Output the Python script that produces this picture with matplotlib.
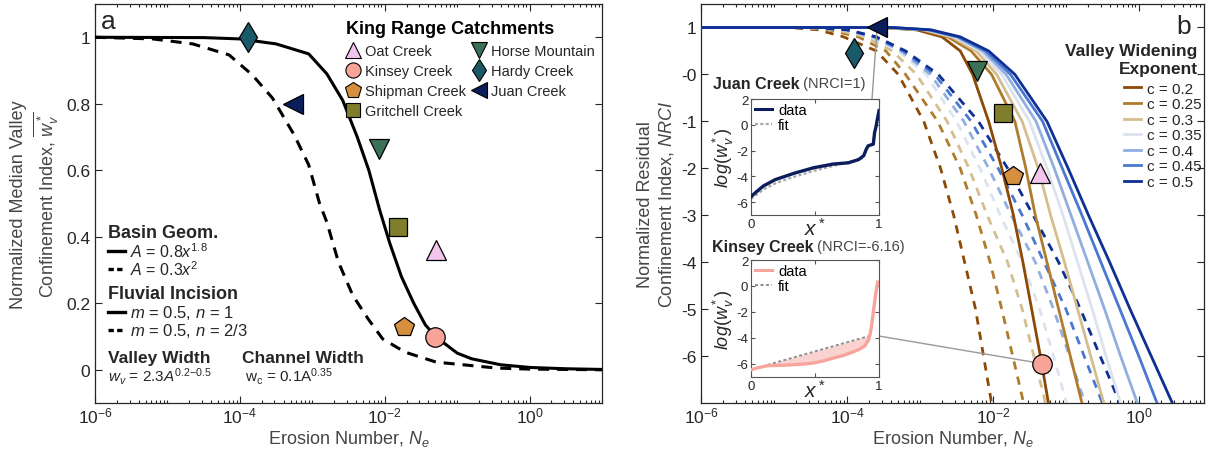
import numpy as np
import matplotlib
matplotlib.use('Agg')
import matplotlib.pyplot as plt
from matplotlib.lines import Line2D
from matplotlib.patches import ConnectionPatch
from matplotlib.ticker import FixedLocator, LogLocator, NullFormatter, FixedFormatter

plt.rcParams['font.family'] = ['Liberation Sans', 'DejaVu Sans']
plt.rcParams['mathtext.fontset'] = 'custom'
plt.rcParams['mathtext.rm'] = 'Liberation Sans'
plt.rcParams['mathtext.it'] = 'Liberation Sans:italic'
plt.rcParams['mathtext.bf'] = 'Liberation Sans:bold'
plt.rcParams['axes.unicode_minus'] = False

# ---- catchments (markers) ----
creeks = ['Oat Creek', 'Kinsey Creek', 'Shipman Creek', 'Gritchell Creek',
          'Horse Mountain', 'Hardy Creek', 'Juan Creek']
creek_markers = ['^', 'o', 'p', 's', 'v', 'd', '<']
creek_sizes = [15, 14, 15, 13, 15, 15, 15]
creek_colors = ['#F2C4EE', '#F7A398', '#D58F3E', '#7E7E2C', '#3B7257', '#1A5A68', '#0B1E5B']
a_logne = [-1.29, -1.31, -1.73, -1.82, -2.08, -3.89, -3.27]
a_wv = [0.36, 0.10, 0.13, 0.43, 0.665, 1.0, 0.8]
b_logne = [-1.35, -1.33, -1.72, -1.86, -2.22, -3.91, -3.59]
b_nrci = [-2.11, -6.16, -2.17, -0.83, 0.07, 0.45, 1.0]

# ---- panel a model curves (log10 Ne, normalized median wv*) ----
a_solid_x = [-6, -4.5, -4.0, -3.5, -3.05, -2.8, -2.58, -2.38, -2.22, -2.07, -1.93, -1.77,
             -1.6, -1.44, -1.3, -1.0, -0.8, -0.4, 0.0, 0.5, 1.0]
a_solid_y = [1.0, 0.999, 0.995, 0.98, 0.95, 0.89, 0.81, 0.70, 0.60, 0.48, 0.38, 0.28,
             0.20, 0.135, 0.10, 0.05, 0.033, 0.015, 0.007, 0.003, 0.001]
a_dash_x = [-6, -5.2, -4.65, -4.15, -3.83, -3.55, -3.25, -3.05, -2.9, -2.8, -2.64, -2.44,
            -2.23, -2.03, -1.72, -1.29, -0.45, 0.0, 1.0]
a_dash_y = [1.0, 0.995, 0.98, 0.947, 0.887, 0.817, 0.706, 0.616, 0.5, 0.444, 0.324, 0.223,
            0.153, 0.093, 0.053, 0.023, 0.005, 0.002, 0.0]

# ---- panel b model curves: log10 Ne at each NRCI level ----
c_labels = ['c = 0.2', 'c = 0.25', 'c = 0.3', 'c = 0.35', 'c = 0.4', 'c = 0.45', 'c = 0.5']
c_colors = ['#8C4A06', '#B07B2C', '#D4BE8F', '#DCE3EE', '#92AEE0', '#4A78D0', '#0E2F93']
nrci_levels = [1, 0.95, 0.8, 0.5, 0, -1, -2, -3, -4, -5, -6, -7]
solid_x = [
    [-3.55, -3.05, -2.70, -2.45, -2.28, -2.06, -1.88, -1.72, -1.59, -1.47, -1.35, -1.24],
    [-3.5, -2.98, -2.62, -2.30, -2.02, -1.70, -1.55, -1.42, -1.26, -1.10, -0.94, -0.78],
    [-3.45, -2.95, -2.57, -2.23, -1.95, -1.60, -1.38, -1.21, -1.02, -0.84, -0.66, -0.48],
    [-3.45, -2.92, -2.53, -2.18, -1.88, -1.50, -1.26, -1.04, -0.84, -0.64, -0.45, -0.25],
    [-3.4, -2.9, -2.50, -2.14, -1.82, -1.41, -1.16, -0.93, -0.70, -0.47, -0.25, -0.02],
    [-3.4, -2.88, -2.48, -2.10, -1.76, -1.32, -1.05, -0.78, -0.52, -0.26, 0.0, 0.25],
    [-3.4, -2.85, -2.45, -2.06, -1.70, -1.26, -0.97, -0.69, -0.40, -0.12, 0.17, 0.46],
]
dash_x = [
    [-4.8, -4.4, -4.05, -3.6, -3.3, -2.95, -2.72, -2.54, -2.39, -2.24, -2.13, -2.02],
    [-4.7, -4.25, -3.85, -3.47, -3.2, -2.76, -2.45, -2.23, -2.04, -1.88, -1.73, -1.58],
    [-4.6, -4.15, -3.75, -3.38, -3.05, -2.63, -2.33, -2.08, -1.80, -1.60, -1.44, -1.28],
    [-4.5, -4.05, -3.68, -3.30, -2.92, -2.50, -2.18, -1.90, -1.60, -1.36, -1.17, -0.99],
    [-4.5, -4.03, -3.65, -3.26, -2.86, -2.40, -2.06, -1.75, -1.42, -1.17, -0.95, -0.74],
    [-4.5, -4.0, -3.62, -3.23, -2.80, -2.30, -1.93, -1.60, -1.30, -1.00, -0.75, -0.50],
    [-4.5, -4.0, -3.60, -3.20, -2.75, -2.20, -1.80, -1.45, -1.10, -0.80, -0.53, -0.26],
]

# ---- inset profiles ----
juan_x = [0, 0.03, 0.096, 0.19, 0.34, 0.49, 0.64, 0.76, 0.84, 0.88, 0.90, 0.915,
          0.94, 0.955, 0.965, 0.975, 0.99, 1.0]
juan_y = [-5.58, -5.3, -4.75, -4.25, -3.75, -3.33, -3.05, -2.95, -2.7, -2.4, -1.9, -1.63,
          -1.55, -1.5, -0.6, -0.2, 0.6, 1.1]
juan_fit_x = [0, 0.1, 0.2, 0.3, 0.4, 0.5, 0.6, 0.7, 0.8, 0.87]
juan_fit_y = [-5.75, -5.0, -4.5, -4.15, -3.85, -3.55, -3.3, -3.05, -2.8, -2.6]
kins_x = [0, 0.05, 0.13, 0.25, 0.34, 0.42, 0.49, 0.57, 0.64, 0.72, 0.79, 0.85, 0.89,
          0.92, 0.94, 0.955, 0.975, 0.99]
kins_y = [-6.45, -6.3, -6.13, -6.1, -6.05, -6.0, -5.92, -5.75, -5.55, -5.35, -5.1, -4.85,
          -4.6, -4.1, -3.2, -2.0, -0.5, 0.3]
kins_fit = [np.nan, np.nan, -6.07, -5.73, -5.48, -5.25, -5.06, -4.83, -4.64, -4.41, -4.22,
            -4.05, -3.94, -3.86, -3.80, np.nan, np.nan, np.nan]

TXT = '#262626'
LAB = '#454545'

fig = plt.figure(figsize=(12.09, 4.6), dpi=100)
ax1 = fig.add_axes([0.0786, 0.1217, 0.4194, 0.8674])
ax2 = fig.add_axes([0.5802, 0.1217, 0.416, 0.8674])


def style_log_axes(ax, xmax):
    ax.set_xscale('log')
    ax.set_xlim(1e-6, xmax)
    ax.xaxis.set_major_locator(FixedLocator([1e-6, 1e-4, 1e-2, 1e0]))
    ax.xaxis.set_major_formatter(FixedFormatter([r'$10^{-6}$', r'$10^{-4}$', r'$10^{-2}$', r'$10^{0}$']))
    ax.xaxis.set_minor_locator(LogLocator(base=10, subs=np.arange(1, 10), numticks=30))
    ax.xaxis.set_minor_formatter(NullFormatter())
    ax.tick_params(which='both', direction='in', top=True, right=True, colors=TXT,
                   labelsize=12.5, labelcolor=TXT, width=0.8)
    ax.tick_params(which='major', length=5)
    ax.tick_params(which='minor', length=2.5)
    ax.tick_params(axis='x', pad=2)
    for s in ax.spines.values():
        s.set_color(TXT)
        s.set_linewidth(0.9)
    ax.set_xlabel(r'Erosion Number, $N_e$', fontsize=13, color=LAB, labelpad=2)


# ================= panel a =================
style_log_axes(ax1, 1e1)
ax1.set_ylim(-0.1, 1.1)
ax1.set_yticks([0, 0.2, 0.4, 0.6, 0.8, 1.0])
ax1.set_yticklabels(['0', '0.2', '0.4', '0.6', '0.8', '1'])
ax1.plot(10 ** np.array(a_solid_x), a_solid_y, color='k', lw=2.2, zorder=3)
ax1.plot(10 ** np.array(a_dash_x), a_dash_y, color='k', lw=2.2, dashes=(3.6, 2.6), zorder=3)
for i in range(len(creeks)):
    ax1.plot(10 ** a_logne[i], a_wv[i], marker=creek_markers[i], ms=creek_sizes[i],
             mfc=creek_colors[i], mec='k', mew=0.9, ls='none', zorder=5)
ax1.set_ylabel('Normalized Median Valley\nConfinement Index, $\\overline{w_v^*}$',
               fontsize=13, color=LAB, labelpad=4)
ax1.text(0.012, 0.957, 'a', transform=ax1.transAxes, fontsize=19, color=TXT, va='center')

handles = [Line2D([], [], marker=creek_markers[i], ms=creek_sizes[i] * 0.78,
                  mfc=creek_colors[i], mec='k', mew=0.8, ls='none') for i in range(len(creeks))]
leg1 = ax1.legend(handles, creeks, ncol=2, loc='upper left', bbox_to_anchor=(0.49, 0.966),
                  title='King Range Catchments', alignment='left',
                  title_fontproperties={'weight': 'bold', 'size': 13},
                  frameon=False, fontsize=10.5, handlelength=0.9, handletextpad=0.35,
                  columnspacing=0.5, labelspacing=0.42, borderaxespad=0.1, borderpad=0.1)
for t in leg1.get_texts():
    t.set_color(TXT)

# lower-left annotation block
blk = dict(transform=ax1.transAxes, va='center', color=TXT)
ax1.text(0.0256, 0.4286, 'Basin Geom.', fontsize=13, weight='bold', **blk)
ax1.text(0.069, 0.381, r'$A$ = 0.8$x^{1.8}$', fontsize=11.5, **blk)
ax1.text(0.069, 0.336, r'$A$ = 0.3$x^{2}$', fontsize=11.5, **blk)
ax1.text(0.0256, 0.2757, 'Fluvial Incision', fontsize=13, weight='bold', **blk)
ax1.text(0.069, 0.228, r'$m$ = 0.5, $n$ = 1', fontsize=12, **blk)
ax1.text(0.069, 0.183, r'$m$ = 0.5, $n$ = 2/3', fontsize=12, **blk)
ax1.text(0.0256, 0.115, 'Valley Width', fontsize=12.5, weight='bold', **blk)
ax1.text(0.0256, 0.07, r'$w_v$ = 2.3$A^{0.2{-}0.5}$', fontsize=11, **blk)
ax1.text(0.29, 0.115, 'Channel Width', fontsize=12.5, weight='bold', **blk)
ax1.text(0.296, 0.07, r'w$_\mathrm{c}$ = 0.1A$^{0.35}$', fontsize=11, **blk)
for yy, dsh in [(0.381, None), (0.336, (1.6, 1.0)), (0.228, None), (0.183, (1.6, 1.0))]:
    ln = Line2D([0.0256, 0.059], [yy, yy], transform=ax1.transAxes, color='k', lw=2.4)
    if dsh:
        ln.set_dashes(dsh)
    ax1.add_line(ln)

# ================= panel b =================
style_log_axes(ax2, 10 ** 0.9)
ax2.set_ylim(-7, 1.5)
ax2.set_yticks(range(-6, 2))
ax2.set_yticklabels(['-6', '-5', '-4', '-3', '-2', '-1', '-0', '1'])
yv = [1] + nrci_levels
for i in range(len(c_labels)):
    ax2.plot(10 ** np.array([-6] + dash_x[i]), yv, color=c_colors[i], lw=2.0,
             dashes=(3.0, 2.6), zorder=2)
for i in range(len(c_labels)):
    ax2.plot(10 ** np.array([-6] + solid_x[i]), yv, color=c_colors[i], lw=2.0, zorder=3)
for i in range(len(creeks)):
    ax2.plot(10 ** b_logne[i], b_nrci[i], marker=creek_markers[i], ms=creek_sizes[i],
             mfc=creek_colors[i], mec='k', mew=0.9, ls='none', zorder=6)
ax2.set_ylabel('Normalized Residual\nConfinement Index, $NRCI$', fontsize=13, color=LAB,
               labelpad=4)
ax2.text(0.959, 0.945, 'b', transform=ax2.transAxes, fontsize=19, color=TXT, va='center',
         ha='center')

ax2.text(0.987, 0.861, 'Valley Widening\nExponent', transform=ax2.transAxes, ha='right',
         va='center', multialignment='right', fontsize=12.5, weight='bold', color=TXT,
         linespacing=1.2)
h2 = [Line2D([], [], color=c, lw=2.0) for c in c_colors]
leg2 = ax2.legend(h2, c_labels, loc='upper right', bbox_to_anchor=(0.995, 0.805),
                  frameon=False, fontsize=11, handlelength=1.1, handletextpad=0.4,
                  labelspacing=0.1, borderaxespad=0.0, borderpad=0.0)
for t in leg2.get_texts():
    t.set_color(TXT)

# ================= insets =================
def style_inset(ax):
    ax.set_xlim(0, 1)
    ax.set_ylim(-7, 2)
    ax.set_xticks([0, 0.5, 1])
    ax.set_xticklabels(['0', '', '1'])
    ax.set_yticks([-6, -4, -2, 0, 2])
    ax.set_yticklabels(['-6', '-4', '-2', '0', '2'])
    ax.tick_params(direction='in', top=True, right=True, length=3, labelsize=9.5,
                   colors='#555555', labelcolor=TXT, pad=2)
    for s in ax.spines.values():
        s.set_color('#555555')
        s.set_linewidth(0.8)
    ax.set_xlabel(r'$x^*$', fontsize=15, color=TXT, labelpad=-9)
    ax.set_ylabel(r'$log(w_v^*)$', fontsize=13, color=TXT, labelpad=0)


insJ = fig.add_axes([0.6212, 0.5304, 0.1059, 0.2522])
style_inset(insJ)
insJ.plot(juan_fit_x, juan_fit_y, color='#A8A8A8', lw=1.6, dashes=(1.4, 1.0), zorder=2)
insJ.plot(juan_x, juan_y, color='#0B1E5B', lw=2.4, zorder=3)
insJ.legend([Line2D([], [], color='#0B1E5B', lw=2.2),
             Line2D([], [], color='#A8A8A8', lw=1.6, dashes=(1.4, 1.0))],
            ['data', 'fit'], loc='upper left', frameon=False, fontsize=10.5,
            handlelength=1.2, handletextpad=0.4, labelspacing=0.1,
            borderaxespad=0.15, borderpad=0.1)

insK = fig.add_axes([0.6212, 0.1783, 0.1059, 0.2543])
style_inset(insK)
kf = np.array(kins_fit)
ky = np.array(kins_y)
insK.fill_between(kins_x, ky, kf, where=~np.isnan(kf), color='#F9C9C6', alpha=0.8,
                  lw=0, zorder=1)
insK.plot(kins_x, kins_fit, color='#909090', lw=1.4, dashes=(1.6, 1.2), zorder=2)
insK.plot(kins_x, kins_y, color='#F7A59C', lw=2.4, zorder=3)
insK.legend([Line2D([], [], color='#F7A59C', lw=2.2),
             Line2D([], [], color='#909090', lw=1.4, dashes=(1.6, 1.2))],
            ['data', 'fit'], loc='upper left', frameon=False, fontsize=10.5,
            handlelength=1.2, handletextpad=0.4, labelspacing=0.1,
            borderaxespad=0.15, borderpad=0.1)

# inset titles
tj = ax2.text(0.022, 0.802, 'Juan Creek', transform=ax2.transAxes, fontsize=11.5,
              weight='bold', color=TXT, va='center')
ax2.annotate(' (NRCI=1)', xy=(1, 0.5), xycoords=tj, va='center', fontsize=10.5, color=LAB)
tk = ax2.text(0.020, 0.3935, 'Kinsey Creek', transform=ax2.transAxes, fontsize=11.5,
              weight='bold', color=TXT, va='center')
ax2.annotate(' (NRCI=-6.16)', xy=(1, 0.5), xycoords=tk, va='center', fontsize=10.5, color=LAB)

# connectors from markers to insets
cj = ConnectionPatch(xyA=(10 ** b_logne[6], b_nrci[6]), coordsA=ax2.transData,
                     xyB=(0.945, 1.0), coordsB=insJ.transAxes, color='#999999', lw=1.0,
                     zorder=4)
ax2.add_artist(cj)
ck = ConnectionPatch(xyA=(10 ** b_logne[1], b_nrci[1]), coordsA=ax2.transData,
                     xyB=(1.0, -3.85), coordsB=insK.transData, color='#999999', lw=1.0,
                     zorder=4)
ax2.add_artist(ck)

fig.savefig('out.png', dpi=100, facecolor='white')
